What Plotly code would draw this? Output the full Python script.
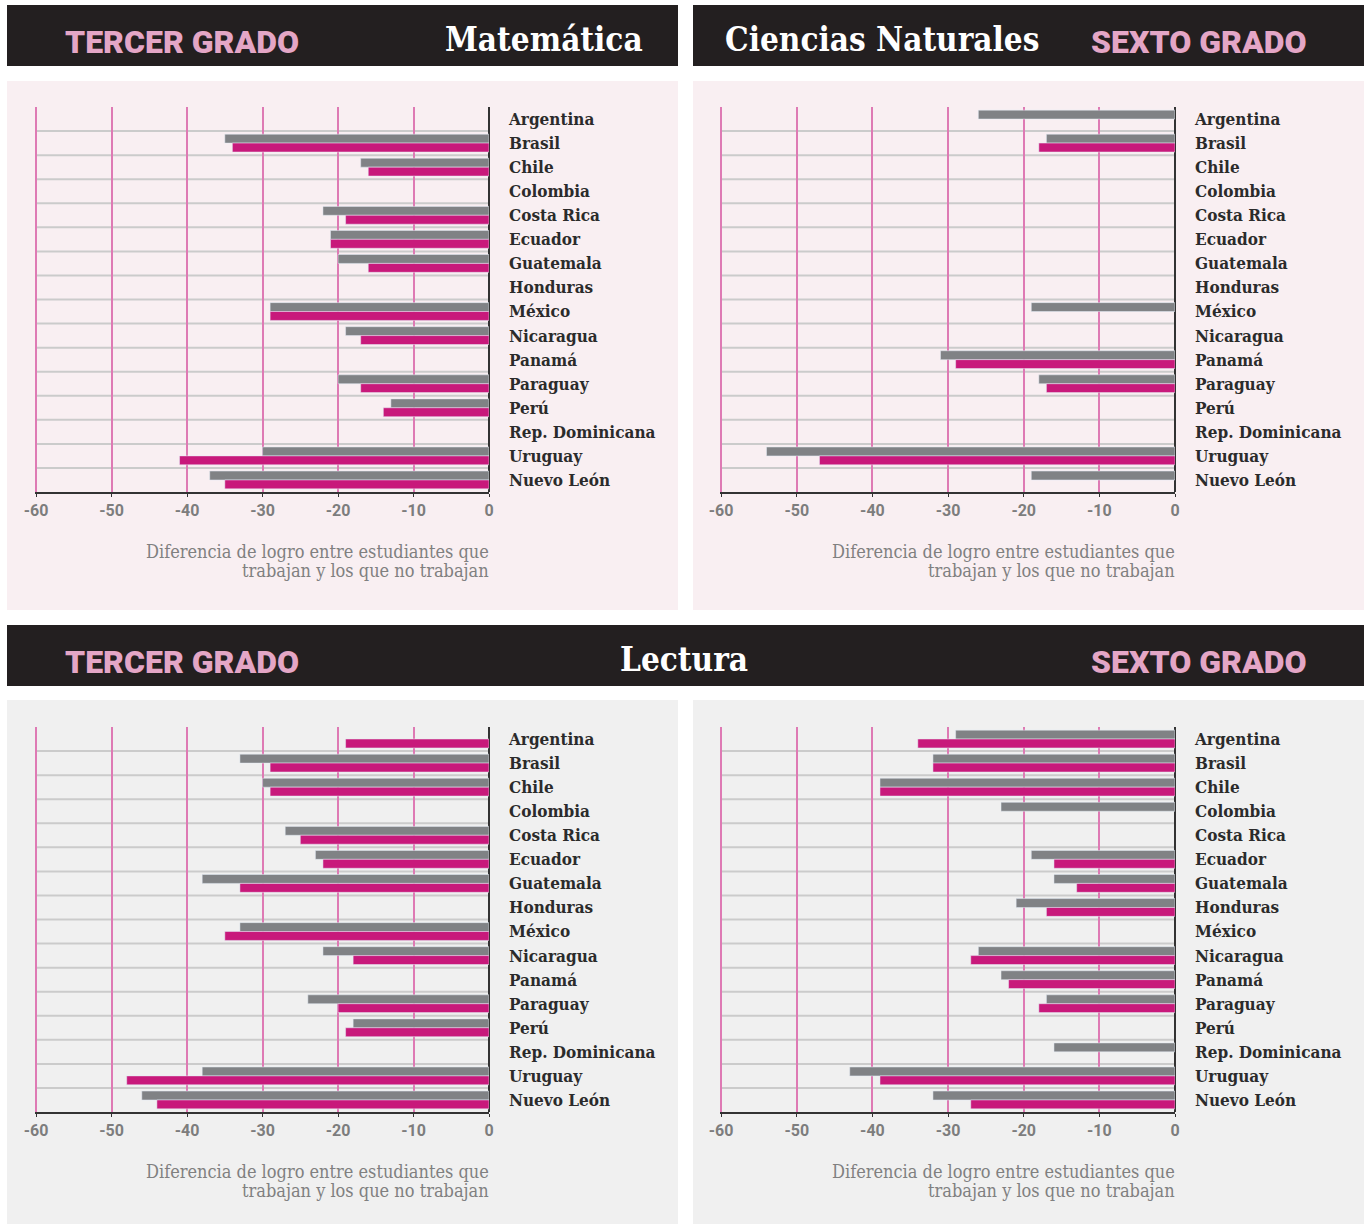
import plotly.graph_objects as go

W, H = 1368, 1224

categories = ["Argentina", "Brasil", "Chile", "Colombia", "Costa Rica", "Ecuador",
              "Guatemala", "Honduras", "México", "Nicaragua", "Panamá", "Paraguay",
              "Perú", "Rep. Dominicana", "Uruguay", "Nuevo León"]
x_ticks = [-60, -50, -40, -30, -20, -10, 0]

# Matemática - tercer grado
mat3_gris = [None, -35, -17, None, -22, -21, -20, None, -29, -19, None, -20, -13, None, -30, -37]
mat3_mag = [None, -34, -16, None, -19, -21, -16, None, -29, -17, None, -17, -14, None, -41, -35]
# Ciencias Naturales - sexto grado
cien6_gris = [-26, -17, None, None, None, None, None, None, -19, None, -31, -18, None, None, -54, -19]
cien6_mag = [None, -18, None, None, None, None, None, None, None, None, -29, -17, None, None, -47, None]
# Lectura - tercer grado
lec3_gris = [None, -33, -30, None, -27, -23, -38, None, -33, -22, None, -24, -18, None, -38, -46]
lec3_mag = [-19, -29, -29, None, -25, -22, -33, None, -35, -18, None, -20, -19, None, -48, -44]
# Lectura - sexto grado
lec6_gris = [-29, -32, -39, -23, None, -19, -16, -21, None, -26, -23, -17, None, -16, -43, -32]
lec6_mag = [-34, -32, -39, None, None, -16, -13, -17, None, -27, -22, -18, None, None, -39, -27]

axis_title_lines = ["Diferencia de logro entre estudiantes que", "trabajan y los que no trabajan"]

GRIS = "#808285"
MAG = "#c8197b"
DARK = "#231f20"
PINK_TXT = "#e4a6c6"
LABEL_FONT = "DejaVu Serif Condensed, DejaVu Serif, serif"
SANS = "Roboto, Open Sans, sans-serif"


def px_x(p):
    return p / W


def px_y(p):
    return 1 - p / H


panels = [
    # (gray, magenta, x0px, x1px, y0px(top), y1px(bottom))
    (mat3_gris, mat3_mag, 35, 489, 107, 492),
    (cien6_gris, cien6_mag, 720, 1175, 107, 492),
    (lec3_gris, lec3_mag, 35, 489, 727, 1112),
    (lec6_gris, lec6_mag, 720, 1175, 727, 1112),
]

fig = go.Figure()
shapes = []
annotations = []

# backgrounds
shapes.append(dict(type="rect", xref="paper", yref="paper", x0=px_x(7), x1=px_x(678),
                   y0=px_y(610), y1=px_y(81), fillcolor="#f9eff2", line_width=0, layer="below"))
shapes.append(dict(type="rect", xref="paper", yref="paper", x0=px_x(693), x1=px_x(1364),
                   y0=px_y(610), y1=px_y(81), fillcolor="#f9eff2", line_width=0, layer="below"))
shapes.append(dict(type="rect", xref="paper", yref="paper", x0=px_x(7), x1=px_x(678),
                   y0=px_y(1224), y1=px_y(700), fillcolor="#f0f0f0", line_width=0, layer="below"))
shapes.append(dict(type="rect", xref="paper", yref="paper", x0=px_x(693), x1=px_x(1364),
                   y0=px_y(1224), y1=px_y(700), fillcolor="#f0f0f0", line_width=0, layer="below"))
# header bars
shapes.append(dict(type="rect", xref="paper", yref="paper", x0=px_x(7), x1=px_x(678),
                   y0=px_y(66), y1=px_y(5), fillcolor=DARK, line_width=0, layer="below"))
shapes.append(dict(type="rect", xref="paper", yref="paper", x0=px_x(693), x1=px_x(1364),
                   y0=px_y(66), y1=px_y(5), fillcolor=DARK, line_width=0, layer="below"))
shapes.append(dict(type="rect", xref="paper", yref="paper", x0=px_x(7), x1=px_x(1364),
                   y0=px_y(686), y1=px_y(625), fillcolor=DARK, line_width=0, layer="below"))

layout_axes = {}
for i, (g, m, x0, x1, y0, y1) in enumerate(panels):
    n = i + 1
    xa = "x" if n == 1 else f"x{n}"
    ya = "y" if n == 1 else f"y{n}"
    fig.add_trace(go.Bar(y=categories, x=g, orientation="h", marker_color=GRIS,
                         name="gris", xaxis=xa, yaxis=ya, showlegend=False))
    fig.add_trace(go.Bar(y=categories, x=m, orientation="h", marker_color=MAG,
                         name="magenta", xaxis=xa, yaxis=ya, showlegend=False))
    xkey = "xaxis" if n == 1 else f"xaxis{n}"
    ykey = "yaxis" if n == 1 else f"yaxis{n}"
    layout_axes[xkey] = dict(
        domain=[px_x(x0), px_x(x1)], anchor=ya, range=[-60.15, 0],
        tickvals=x_ticks, ticktext=[str(v) for v in x_ticks],
        showgrid=True, gridcolor="#de7ab4", gridwidth=1.5,
        zeroline=True, zerolinecolor="#333333", zerolinewidth=2,
        showline=True, linecolor="#333333", linewidth=2,
        ticks="outside", ticklen=3, tickcolor="#333333",
        tickfont=dict(family=SANS, size=16, color="#7d7d7d", weight="bold"),
        fixedrange=True, automargin=False,
    )
    layout_axes[ykey] = dict(
        domain=[px_y(y1), px_y(y0)], anchor=xa, side="right",
        categoryorder="array", categoryarray=categories, autorange="reversed",
        showgrid=False, zeroline=False, showline=False, ticks="",
        ticklabelstandoff=19,
        tickfont=dict(family=LABEL_FONT, size=17, color="#2b2b2b", weight="bold"),
        fixedrange=True, automargin=False,
    )
    # separators between categories
    for k in range(1, len(categories)):
        shapes.append(dict(type="line", xref=f"{xa} domain", yref=ya, x0=0, x1=1,
                           y0=k - 0.5, y1=k - 0.5, line=dict(color="#cbcbcb", width=2),
                           layer="below"))
    for j, line in enumerate(axis_title_lines):
        annotations.append(dict(xref=f"{xa} domain", yref="paper", x=1.004,
                                y=px_y(y1 + 59 + 19 * j),
                                xanchor="right", yanchor="middle", align="right",
                                text=line, showarrow=False,
                                font=dict(family=LABEL_FONT, size=18, color="#808080")))

# header texts
def head(text, xpx, ypx, anchor, kind):
    if kind == "grado":
        font = dict(family=SANS, size=32, color=PINK_TXT, weight=900)
    else:
        font = dict(family=LABEL_FONT, size=33, color="white", weight="bold")
    annotations.append(dict(xref="paper", yref="paper", x=px_x(xpx), y=px_y(ypx),
                            xanchor=anchor, yanchor="middle", text=text,
                            showarrow=False, font=font))

head("TERCER GRADO", 63, 42, "left", "grado")
head("Matemática", 645, 40, "right", "title")
head("Ciencias Naturales", 723, 40, "left", "title")
head("SEXTO GRADO", 1308, 42, "right", "grado")
head("TERCER GRADO", 63, 662, "left", "grado")
head("Lectura", 684, 659, "center", "title")
head("SEXTO GRADO", 1308, 662, "right", "grado")

fig.update_layout(
    width=W, height=H, margin=dict(l=0, r=0, t=0, b=0, autoexpand=False),
    paper_bgcolor="white", plot_bgcolor="rgba(0,0,0,0)",
    barmode="group", bargap=0.26, bargroupgap=0,
    shapes=shapes, annotations=annotations, showlegend=False,
    **layout_axes,
)

fig.write_html("out.html", config={"responsive": False, "displayModeBar": False},
               post_script="document.body.style.margin='0';document.body.style.overflow='hidden';")
